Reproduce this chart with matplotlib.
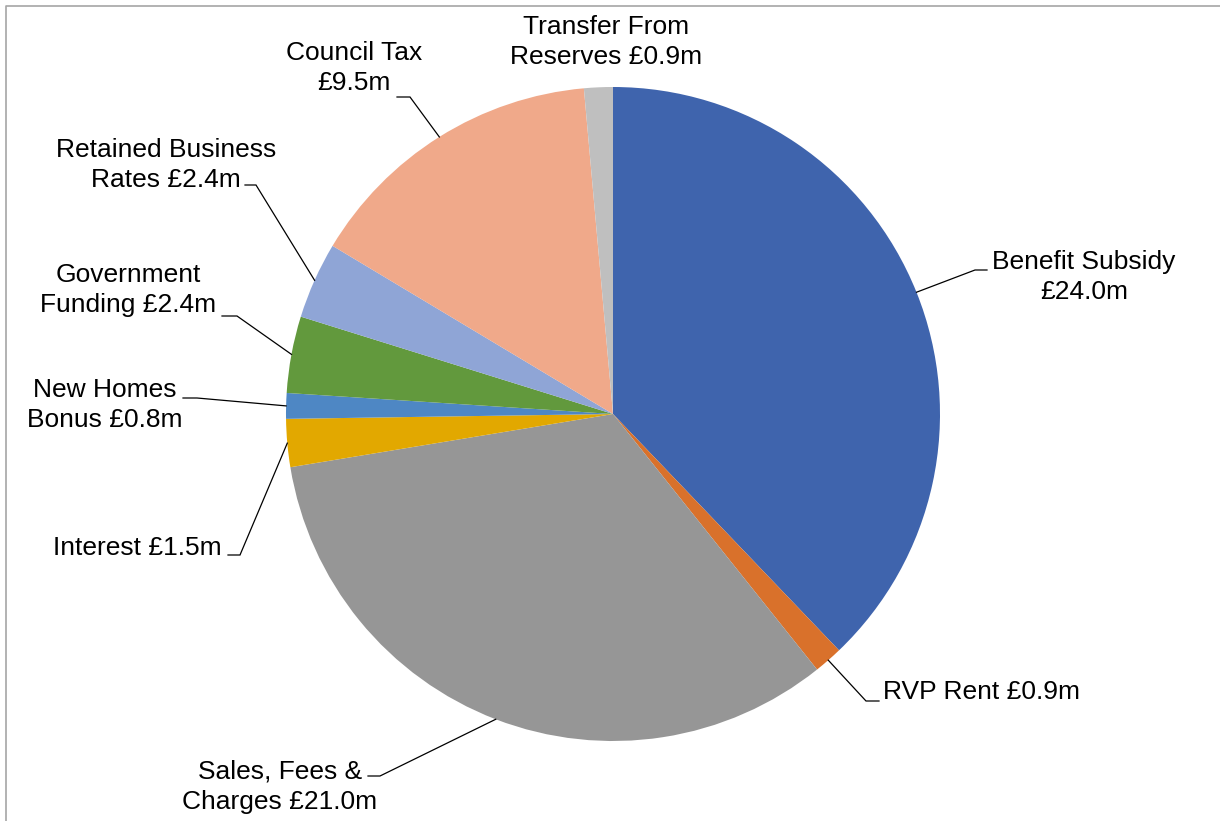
import matplotlib
matplotlib.use("Agg")
import matplotlib.pyplot as plt
import numpy as np

plt.rcParams['font.family'] = ['Liberation Sans', 'DejaVu Sans']

# data (GBP millions), clockwise from the top
categories = ["Benefit Subsidy", "RVP Rent", "Sales, Fees & Charges", "Interest",
              "New Homes Bonus", "Government Funding", "Retained Business Rates",
              "Council Tax", "Transfer From Reserves"]
values = [24.0, 0.9, 21.0, 1.5, 0.8, 2.4, 2.4, 9.5, 0.9]
label_text = ["Benefit Subsidy\n£24.0m", "RVP Rent £0.9m", "Sales, Fees &\nCharges £21.0m",
              "Interest £1.5m", "New Homes\nBonus £0.8m", "Government\nFunding £2.4m",
              "Retained Business\nRates £2.4m", "Council Tax\n£9.5m",
              "Transfer From\nReserves £0.9m"]
colors = ["#3F64AD", "#D9712B", "#969696", "#E2A800", "#4E87C4",
          "#62993D", "#8FA5D6", "#F0A98A", "#BFBFBF"]

# label layout in pixel coords: text pos, ha, elbow point, end point
layout = [
    ((1084, 277), "center", (975, 270), (987, 270)),
    ((883, 692), "left", (866, 701), (879, 701)),
    ((280, 787), "center", (380, 776), (368, 776)),
    ((222, 548), "right", (240, 555), (228, 555)),
    ((105, 405), "center", (197, 398), (183, 398)),
    ((128, 290), "center", (237, 316), (222, 316)),
    ((166, 165), "center", (256, 185), (245, 185)),
    ((354, 68), "center", (410, 97), (397, 97)),
    ((606, 42), "center", None, None),
]

W, H = 1220, 821
cx, cy, R = 613, 414, 327

fig = plt.figure(figsize=(W / 100, H / 100), dpi=100)
ax = fig.add_axes([0, 0, 1, 1])

wedges, _ = ax.pie(values, colors=colors, startangle=-90, counterclock=True,
                   center=(cx, cy), radius=R, wedgeprops=dict(linewidth=0))
ax.set_xlim(0, W)
ax.set_ylim(H, 0)
ax.set_aspect('equal')
ax.axis('off')

for w, txt, (tpos, ha, elbow, end) in zip(wedges, label_text, layout):
    ax.text(tpos[0], tpos[1], txt, ha=ha, va='center', multialignment='center',
            fontsize=19, color='black', linespacing=1.32)
    if elbow is None:
        continue
    ang = np.deg2rad((w.theta1 + w.theta2) / 2)
    sx, sy = cx + R * np.cos(ang), cy + R * np.sin(ang)
    ax.plot([sx, elbow[0], end[0]], [sy, elbow[1], end[1]], color='black', lw=0.9,
            solid_joinstyle='miter')

# chart border
ax.plot([6, 6, W + 5], [H + 5, 6, 6], color='#A6A6A6', lw=1.2, clip_on=False)

fig.savefig("out.png", dpi=100)
